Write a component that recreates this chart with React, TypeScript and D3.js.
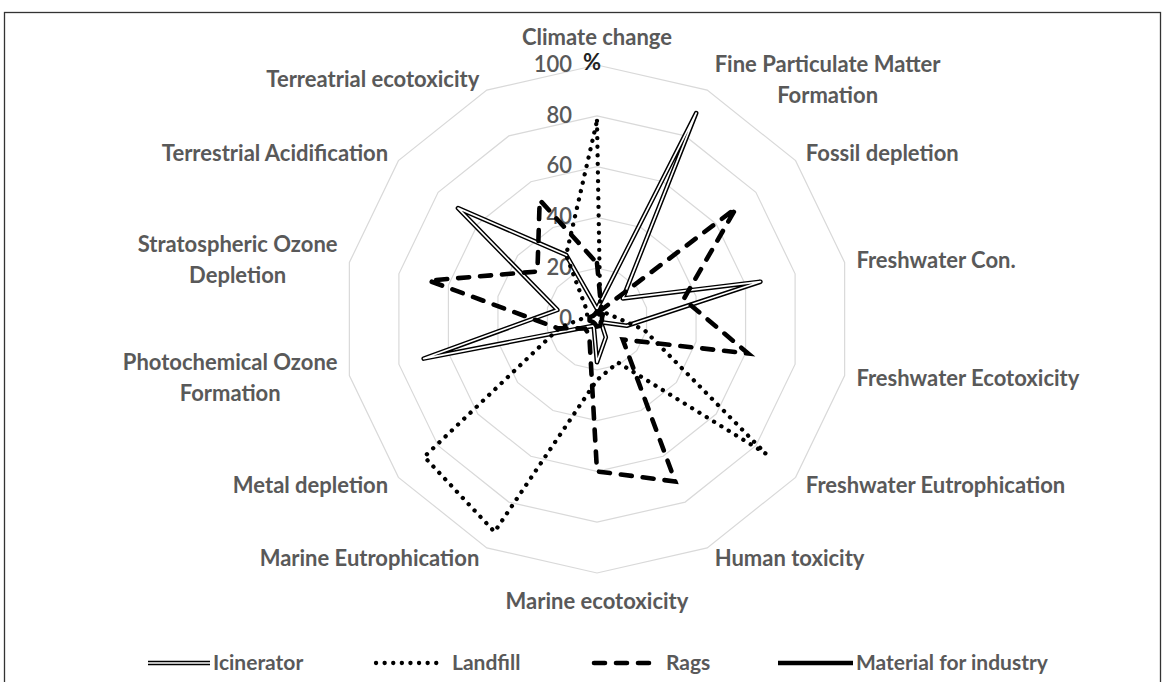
import React from 'react';
import * as d3 from 'd3';

const categories = [
  'Climate change',
  'Fine Particulate Matter\nFormation',
  'Fossil depletion',
  'Freshwater Con.',
  'Freshwater Ecotoxicity',
  'Freshwater Eutrophication',
  'Human toxicity',
  'Marine ecotoxicity',
  'Marine Eutrophication',
  'Metal depletion',
  'Photochemical Ozone\nFormation',
  'Stratospheric Ozone\nDepletion',
  'Terrestrial Acidification',
  'Terreatrial ecotoxicity',
];

const seriesNames = ['Icinerator', 'Landfill', 'Rags', 'Material for industry'];
const icinerator = [4, 90, 13, 66, 12, 2, 8, 17, 3, 5, 70, 16, 70, 28];
const landfill = [78, 3, 4, 6, 19, 85, 19, 24, 93, 87, 15, 4, 5, 28];
const rags = [22, 4, 70, 35, 61, 13, 71, 60, 7, 6, 16, 68, 30, 52];
const material = [3, 2, 3, 2, 2, 2, 3, 3, 2, 2, 3, 3, 2, 2];
const ticks = [0, 20, 40, 60, 80, 100];
const unitLabel = '%';

const W = 1168;
const H = 682;
const CX = 597;
const CY = 319;
const R = 254;
const FONT = 'Lato, "Open Sans", sans-serif';
const LABEL_SIZE = 22;
const GRAY = '#595959';

let measureCtx: CanvasRenderingContext2D | null = null;
function measure(text: string, size: number, weight = 700) {
  if (!measureCtx) {
    const c = document.createElement('canvas');
    measureCtx = c.getContext('2d');
  }
  if (!measureCtx) return text.length * size * 0.5;
  measureCtx.font = `${weight} ${size}px Lato`;
  return measureCtx.measureText(text).width;
}

export default function App() {
  const n = categories.length;
  const angle = d3.scaleLinear().domain([0, n]).range([0, 2 * Math.PI]);
  const r = d3.scaleLinear().domain([0, 100]).range([0, R]);

  const radial = (vals: number[]) =>
    d3
      .lineRadial<number>()
      .angle((_, i) => angle(i))
      .radius((v) => r(v))
      .curve(d3.curveLinearClosed)(vals) as string;

  const ringPath = (v: number) => radial(categories.map(() => v));

  const pt = (i: number, v: number) => {
    const a = angle(i);
    return [CX + r(v) * Math.sin(a), CY - r(v) * Math.cos(a)];
  };

  const labels = categories.map((c, i) => {
    const a = angle(i);
    const s = Math.sin(a);
    const co = Math.cos(a);
    const [px, py] = pt(i, 100);
    const lines = c.split('\n');
    const lineH = 31;
    let anchor: 'start' | 'middle' | 'end' = 'middle';
    let x = px;
    let cy: number;
    if (Math.abs(s) < 0.1) {
      cy = py - co * 28;
    } else {
      cy = py - co * 12;
      const gap = 4 + 8 * Math.abs(s);
      const maxW = Math.max(...lines.map((l) => measure(l, LABEL_SIZE)));
      if (lines.length > 1) {
        x = s > 0 ? px + gap + maxW / 2 : px - gap - maxW / 2;
      } else {
        anchor = s > 0 ? 'start' : 'end';
        x = s > 0 ? px + gap : px - gap;
      }
    }
    const top = cy - ((lines.length - 1) * lineH) / 2;
    return (
      <text
        key={i}
        textAnchor={anchor}
        fontFamily={FONT}
        fontSize={LABEL_SIZE}
        fontWeight={700}
        fill={GRAY}
      >
        {lines.map((l, j) => (
          <tspan key={j} x={x} y={top + j * lineH} dy="0.35em">
            {l}
          </tspan>
        ))}
      </text>
    );
  });

  const legendY = 663;
  const legendItems = [
    { x0: 148, x1: 210, tx: 213 },
    { x0: 376, x1: 440, tx: 452 },
    { x0: 592, x1: 654, tx: 666 },
    { x0: 778, x1: 853, tx: 856 },
  ];

  const doubleStroke = (d: string, key: string) => (
    <g key={key}>
      <path d={d} fill="none" stroke="#000" strokeWidth={4.6} strokeLinejoin="round" />
      <path d={d} fill="none" stroke="#fff" strokeWidth={1.7} strokeLinejoin="round" />
    </g>
  );

  const dotted = { stroke: '#000', strokeWidth: 4.3, strokeDasharray: '0.1 8.5', strokeLinecap: 'round' as const, fill: 'none' };
  const dashed = { stroke: '#000', strokeWidth: 4.6, strokeDasharray: '11 11', strokeLinecap: 'round' as const, fill: 'none' };
  const solid = { stroke: '#000', strokeWidth: 4.6, strokeLinejoin: 'round' as const, fill: 'none' };

  return (
    <svg
      width={W}
      height={H}
      style={{ position: 'absolute', left: 0, top: 0, background: '#fff' }}
    >
      <rect x={0} y={0} width={W} height={H} fill="#fff" />
      <rect x={4.5} y={12.5} width={1156} height={720} fill="none" stroke="#333" strokeWidth={1.3} />

      <g transform={`translate(${CX},${CY})`}>
        {ticks
          .filter((t) => t > 0)
          .map((t) => (
            <path key={t} d={ringPath(t)} fill="none" stroke="#d9d9d9" strokeWidth={1.2} />
          ))}
      </g>

      {ticks.map((t) => (
        <text
          key={t}
          x={CX - 25}
          y={CY - r(t) - 1}
          dy="0.35em"
          textAnchor="end"
          fontFamily={FONT}
          fontSize={LABEL_SIZE}
          fontWeight={600}
          fill={GRAY}
        >
          {t}
        </text>
      ))}
      <text
        x={CX - 14}
        y={CY - r(100) - 3}
        dy="0.35em"
        fontFamily={FONT}
        fontSize={LABEL_SIZE}
        fontWeight={700}
        fill="#222"
      >
        {unitLabel}
      </text>

      {labels}

      <g transform={`translate(${CX},${CY})`}>
        {doubleStroke(radial(icinerator), 'inc')}
        <path d={radial(landfill)} {...dotted} />
        <path d={radial(rags)} {...dashed} />
        <path d={radial(material)} {...solid} />
      </g>

      <g>
        {doubleStroke(`M${legendItems[0].x0},${legendY}H${legendItems[0].x1}`, 'lg0')}
        <path d={`M${legendItems[1].x0},${legendY}H${legendItems[1].x1}`} {...dotted} />
        <path d={`M${legendItems[2].x0 + 2},${legendY}H${legendItems[2].x1}`} {...dashed} />
        <path d={`M${legendItems[3].x0},${legendY}H${legendItems[3].x1}`} {...solid} />
        {seriesNames.map((s, i) => (
          <text
            key={s}
            x={legendItems[i].tx}
            y={legendY}
            dy="0.35em"
            fontFamily={FONT}
            fontSize={21}
            fontWeight={700}
            fill={GRAY}
          >
            {s}
          </text>
        ))}
      </g>
    </svg>
  );
}
